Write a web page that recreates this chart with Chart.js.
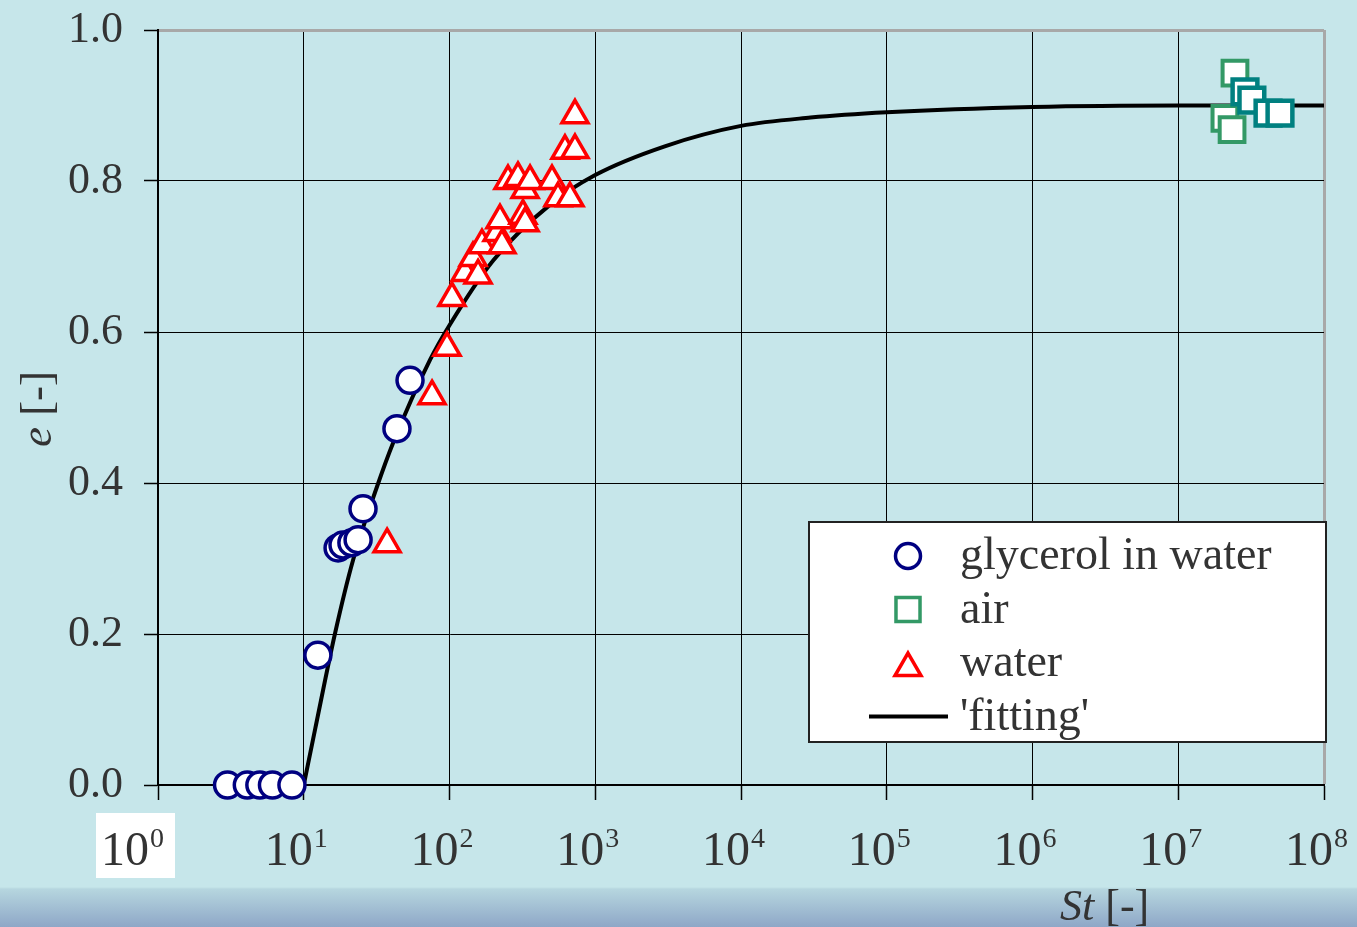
<!DOCTYPE html>
<html>
<head>
<meta charset="utf-8">
<title>e vs St</title>
<script src="https://cdn.jsdelivr.net/npm/chart.js@4.4.1/dist/chart.umd.min.js"></script>
<style>
  html, body { margin: 0; padding: 0; }
  body {
    width: 1357px; height: 927px; overflow: hidden;
    background: linear-gradient(to bottom, #c6e6ea 0px, #c6e6ea 887px, #b6d6df 889px, #8ea7c7 927px);
  }
</style>
</head>
<body>
<canvas id="effChart" width="1357" height="927"></canvas>
<script>
// values
const glycerolSt = [3.0, 4.1, 5.0, 6.1, 8.3, 12.5, 17.2, 18.6, 21.4, 23.6, 25.5, 43.6, 53.6];
const glycerolE  = [0, 0, 0, 0, 0, 0.172, 0.314, 0.318, 0.321, 0.325, 0.366, 0.472, 0.536];

const waterSt = [37.3, 75.9, 96.2, 104, 128, 145, 157, 167, 212, 222, 229, 252, 295, 319, 330, 330, 357, 505, 555, 620, 671, 726, 726];
const waterE  = [0.319, 0.515, 0.579, 0.645, 0.678, 0.698, 0.675, 0.715, 0.731, 0.748, 0.715, 0.800, 0.804, 0.754, 0.744, 0.788, 0.800, 0.800, 0.777, 0.840, 0.777, 0.841, 0.887];

const airSt  = [2.45e7, 2.09e7, 2.34e7];
const airE   = [0.943, 0.883, 0.868];
const air2St = [2.87e7, 3.2e7, 4.13e7, 4.99e7];
const air2E  = [0.918, 0.907, 0.890, 0.890];

const fitSt = [10, 12, 16.4, 21.8, 31.8, 41, 73.5, 100, 200, 500, 1000, 3000, 1e4, 3e4, 1e5, 1e6, 1e7, 1e8];
const fitE  = [0, 0.075, 0.201, 0.298, 0.395, 0.453, 0.563, 0.609, 0.695, 0.770, 0.808, 0.846, 0.873, 0.884, 0.891, 0.898, 0.900, 0.900];

const xTickExp = [0, 1, 2, 3, 4, 5, 6, 7, 8];
const yTicks = [0, 0.2, 0.4, 0.6, 0.8, 1.0];

const SERIF = '"Liberation Serif", "Times New Roman", serif';
const TEXT = '#333333';

function pts(xs, ys) {
  return xs.map((x, i) => ({ x: x, y: ys[i] }));
}

// tick labels like 10^n drawn with a raised exponent, plus axis titles
const xLabels = {
  id: 'xLabels',
  afterDraw(chart) {
    const ctx = chart.ctx;
    const xs = chart.scales.x;
    ctx.save();
    xTickExp.forEach((p, i) => {
      const cx = xs.getPixelForValue(Math.pow(10, p));
      ctx.font = '48px ' + SERIF;
      const wb = ctx.measureText('10').width;
      ctx.font = '28px ' + SERIF;
      const ws = ctx.measureText(String(p)).width;
      // first label sits further left, on its own white box
      const shift = i === 0 ? 26 : 8;
      const left = cx - (wb + ws) / 2 - shift;
      if (i === 0) {
        ctx.fillStyle = '#ffffff';
        ctx.fillRect(left - 5, 813, wb + ws + 17, 65);
      }
      ctx.fillStyle = TEXT;
      ctx.textAlign = 'left';
      ctx.textBaseline = 'alphabetic';
      ctx.font = '48px ' + SERIF;
      ctx.fillText('10', left, 865);
      ctx.font = '28px ' + SERIF;
      ctx.fillText(String(p), left + wb + 1, 847);
    });

    ctx.font = 'italic 44px ' + SERIF;
    const wSt = ctx.measureText('St').width;
    ctx.fillText('St', 1060, 920);
    ctx.font = '44px ' + SERIF;
    ctx.fillText(' [-]', 1060 + wSt, 920);

    ctx.translate(51, 409);
    ctx.rotate(-Math.PI / 2);
    ctx.font = 'italic 45px ' + SERIF;
    const we = ctx.measureText('e').width;
    ctx.font = '45px ' + SERIF;
    const wr = ctx.measureText(' [-]').width;
    const start = -(we + wr) / 2;
    ctx.font = 'italic 45px ' + SERIF;
    ctx.fillText('e', start, 0);
    ctx.font = '45px ' + SERIF;
    ctx.fillText(' [-]', start + we, 0);
    ctx.restore();
  }
};

// legend box inside the plot
const boxLegend = {
  id: 'boxLegend',
  afterDraw(chart) {
    const ctx = chart.ctx;
    ctx.save();
    ctx.fillStyle = '#ffffff';
    ctx.fillRect(809, 522, 517, 220);
    ctx.strokeStyle = '#222';
    ctx.lineWidth = 2;
    ctx.strokeRect(809, 522, 517, 220);

    const rows = chart.data.datasets.filter(d => d.inLegend);
    rows.forEach((d, i) => {
      const y = 556 + i * 53.5;
      if (d.showLine) {
        ctx.strokeStyle = d.borderColor;
        ctx.lineWidth = 4;
        ctx.beginPath();
        ctx.moveTo(869, y);
        ctx.lineTo(948, y);
        ctx.stroke();
      } else {
        ctx.strokeStyle = d.pointBorderColor;
        ctx.fillStyle = '#ffffff';
        ctx.lineWidth = 3.5;
        Chart.helpers.drawPoint(ctx, {
          pointStyle: d.pointStyle,
          radius: d.legendRadius,
          rotation: 0,
          borderWidth: 3.5
        }, 908, d.pointStyle === 'triangle' ? y + 5 : y);
      }
      ctx.fillStyle = TEXT;
      ctx.font = '46px ' + SERIF;
      ctx.textAlign = 'left';
      ctx.textBaseline = 'alphabetic';
      ctx.fillText(d.label, 960, y + 13);
    });
    ctx.restore();
  }
};

new Chart(document.getElementById('effChart'), {
  type: 'scatter',
  data: {
    datasets: [
      {
        label: 'glycerol in water',
        inLegend: true,
        data: pts(glycerolSt, glycerolE),
        pointStyle: 'circle',
        pointRadius: 13,
        legendRadius: 12.5,
        pointBorderWidth: 3.5,
        pointBorderColor: '#000080',
        pointBackgroundColor: '#ffffff',
        clip: false,
        order: 1
      },
      {
        label: 'air',
        inLegend: true,
        data: pts(airSt, airE),
        pointStyle: 'rect',
        pointRadius: 17.5,
        legendRadius: 17,
        pointBorderWidth: 4,
        pointBorderColor: '#339966',
        pointBackgroundColor: '#ffffff',
        clip: false,
        order: 2
      },
      {
        label: 'air ',
        inLegend: false,
        data: pts(air2St, air2E),
        pointStyle: 'rect',
        pointRadius: 17.5,
        pointBorderWidth: 4.5,
        pointBorderColor: '#008080',
        pointBackgroundColor: '#ffffff',
        clip: false,
        order: 1
      },
      {
        label: 'water',
        inLegend: true,
        data: pts(waterSt, waterE),
        pointStyle: 'triangle',
        pointRadius: 15,
        legendRadius: 15,
        pointBorderWidth: 3.5,
        pointBorderColor: '#ff0000',
        pointBackgroundColor: '#ffffff',
        clip: false,
        order: 1
      },
      {
        label: "'fitting'",
        inLegend: true,
        data: pts(fitSt, fitE),
        showLine: true,
        borderColor: '#000000',
        borderWidth: 4,
        pointRadius: 0,
        tension: 0.4,
        cubicInterpolationMode: 'monotone',
        order: 10
      }
    ]
  },
  options: {
    responsive: false,
    animation: false,
    layout: { padding: { left: 0, top: 30, right: 33, bottom: 0 } },
    plugins: {
      legend: { display: false },
      tooltip: { enabled: false }
    },
    scales: {
      x: {
        type: 'logarithmic',
        min: 1,
        max: 1e8,
        afterBuildTicks: s => { s.ticks = xTickExp.map(p => ({ value: Math.pow(10, p) })); },
        afterFit: s => { s.height = 142; s.paddingLeft = 0; s.paddingRight = 0; },
        ticks: { autoSkip: false, callback: () => '' },
        grid: {
          color: c => (c.tick && c.tick.value === 1e8) ? '#a8a8a8' : '#000000',
          lineWidth: c => (c.tick && c.tick.value === 1e8) ? 3 : 1,
          tickColor: '#000000',
          tickWidth: 1.5,
          tickLength: 15
        },
        border: { color: '#000000', width: 2 }
      },
      y: {
        type: 'linear',
        min: 0,
        max: 1,
        afterBuildTicks: s => { s.ticks = yTicks.map(v => ({ value: v })); },
        afterFit: s => { s.width = 158; s.paddingTop = 0; s.paddingBottom = 0; },
        ticks: {
          callback: v => Number(v).toFixed(1),
          font: { family: SERIF, size: 44 },
          color: TEXT,
          padding: 21
        },
        grid: {
          color: c => (c.tick && c.tick.value === 1) ? '#a8a8a8' : '#000000',
          lineWidth: c => (c.tick && c.tick.value === 1) ? 3 : 1,
          tickColor: '#000000',
          tickWidth: 1.5,
          tickLength: 14
        },
        border: { color: '#000000', width: 2 }
      }
    }
  },
  plugins: [xLabels, boxLegend]
});
</script>
</body>
</html>
